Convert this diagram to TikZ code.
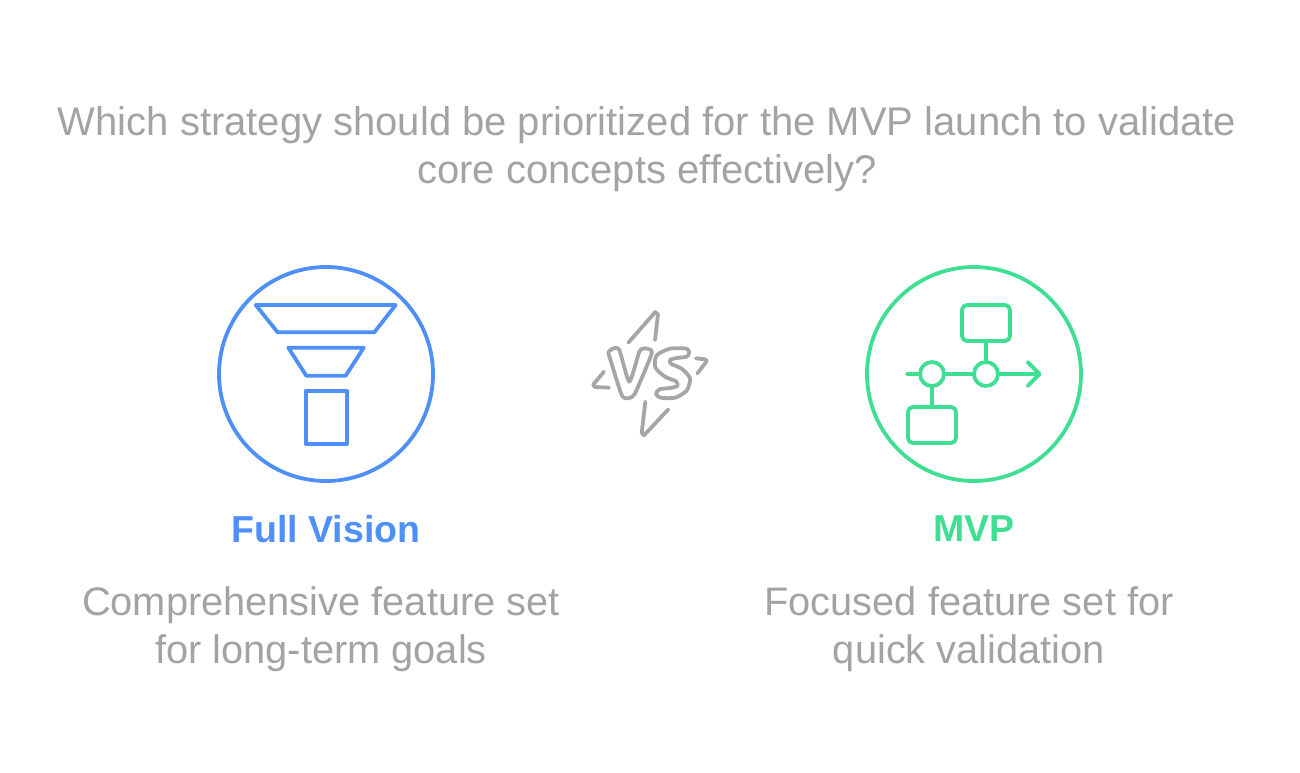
\documentclass[tikz,border=0pt]{standalone}
\usepackage{fontspec}
\setmainfont{Liberation Sans}
\usepackage{tikz}
\usetikzlibrary{arrows.meta,positioning}
\definecolor{visionblue}{HTML}{4F8FF8}
\definecolor{mvpgreen}{HTML}{40DE93}
\definecolor{textgray}{HTML}{A3A3A3}
\definecolor{iconcolor}{HTML}{A6A6A6}

\begin{document}
\begin{tikzpicture}[
  x=1pt, y=-1pt,
  >=Latex,
  titletext/.style={text=textgray, align=center, font=\fontsize{40}{48}\selectfont},
  desctext/.style={text=textgray, align=center, font=\fontsize{39.8}{48}\selectfont},
  headtext/.style={font=\fontsize{37.5}{44}\selectfont\bfseries},
  bigring/.style={draw, circle, line width=3.8pt, minimum size=214pt, inner sep=0pt},
  hub/.style={draw=mvpgreen, circle, line width=3.8pt, fill=white, minimum size=24pt, inner sep=0pt},
  stepbox/.style={draw=mvpgreen, rounded corners=5pt, line width=3.8pt, minimum width=48pt, minimum height=36pt, inner sep=0pt},
  link/.style={draw=mvpgreen, line width=3.8pt, line cap=round},
  funnel/.style={draw=visionblue, line width=3.8pt, line join=round},
  vsline/.style={draw=iconcolor, line width=3.8pt, line cap=round, line join=round}
]
\useasboundingbox (0,0) rectangle (1300,772);

% question
\node[titletext] (question) at (647,149.2) {Which strategy should be prioritized for the MVP launch to validate\\core concepts effectively?};

% left option
\node[bigring, draw=visionblue] (visionring) at (326,374) {};
\draw[funnel] (255.7,305) -- (395.7,305) -- (374.3,332.3) -- (277.7,332.3) -- cycle;
\draw[funnel] (288.3,347.7) -- (363.7,347.7) -- (345.7,375.7) -- (306.3,375.7) -- cycle;
\node[draw=visionblue, line width=3.8pt, line join=round, minimum width=41pt, minimum height=53pt, inner sep=0pt] (visionbox) at (326.2,417.2) {};
\node[headtext, text=visionblue] (visionhead) at (326,529) {Full Vision};
\node[desctext] (visiondesc) at (321,629) {Comprehensive feature set\\for long-term goals};

% versus mark
\begin{scope}[shift={(570,290)}, scale=1/3]
\draw[vsline] (175,158) -- (256,66) to[out=-60,in=-70] (264,72) -- (255,150);
\draw[vsline] (226,335) -- (215,430) to[out=100,in=130] (222,436) -- (295,358);
\draw[vsline] (102,245) -- (70,283) to[out=110,in=170] (75,291) -- (117,293);
\draw[vsline] (378,205) -- (405,208) to[out=0,in=-60] (410,214) -- (382,250);
\draw[vsline] plot[smooth cycle, tension=0.35] coordinates {(115,187) (130,175) (148,180) (178,275) (208,185) (225,175) (245,182) (240,205) (195,310) (175,325) (155,315) (120,205)};
\draw[vsline] plot[smooth cycle, tension=0.45] coordinates {(350,176) (300,176) (260,196) (256,232) (285,260) (318,274) (322,288) (300,294) (268,298) (258,312) (272,323) (315,323) (350,302) (360,265) (335,236) (304,222) (300,210) (320,204) (350,200) (357,188)};
\end{scope}

% right option
\node[bigring, draw=mvpgreen] (mvpring) at (974,374) {};
\coordinate (linestart) at (907.3,374);
\coordinate (linetip) at (1041.5,374);
\node[hub] (hubleft) at (932,374) {};
\node[hub] (hubright) at (986,374) {};
\node[stepbox] (boxtop) at (986,323) {};
\node[stepbox] (boxbottom) at (932,425) {};
\draw[link] (linestart) -- (hubleft);
\draw[link] (hubleft) -- (hubright);
\draw[link, -{Straight Barb[length=12pt,width=24pt,round]}] (hubright) -- (linetip);
\draw[link] (hubright) -- (boxtop);
\draw[link] (hubleft) -- (boxbottom);
\node[headtext, text=mvpgreen] (mvphead) at (974,529) {MVP};
\node[desctext] (mvpdesc) at (969,629) {Focused feature set for\\quick validation};
\end{tikzpicture}
\end{document}
